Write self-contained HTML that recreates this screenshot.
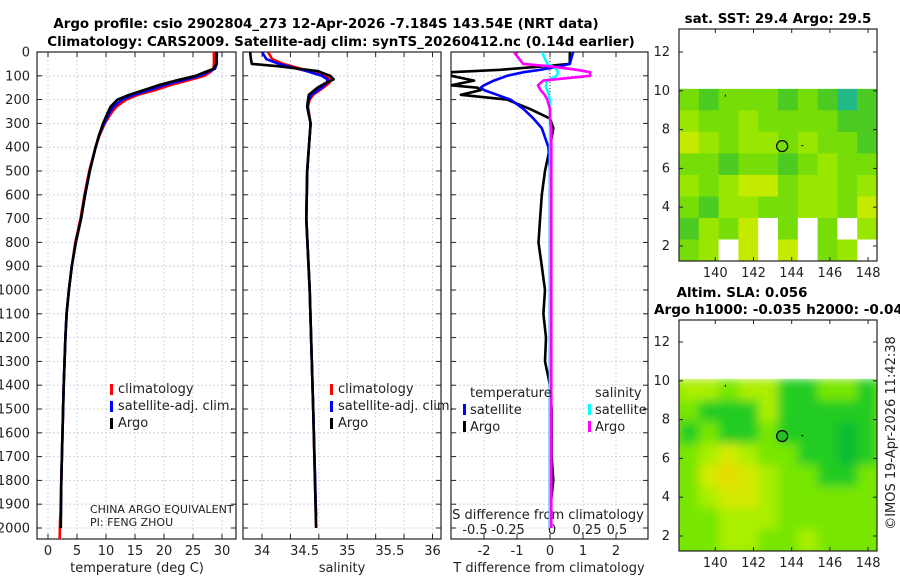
<!DOCTYPE html>
<html><head><meta charset="utf-8"><style>
html,body{margin:0;padding:0;background:#fff;}
svg{display:block;font-family:"DejaVu Sans","Liberation Sans",sans-serif;}
</style></head><body>
<svg id="fig" width="900" height="580" viewBox="0 0 900 580">
<defs>
<clipPath id="c1"><rect x="37" y="52" width="199" height="487"/></clipPath>
<clipPath id="c2"><rect x="243" y="52" width="198" height="487"/></clipPath>
<clipPath id="c3"><rect x="451" y="52" width="197" height="487"/></clipPath>
<clipPath id="cm1"><rect x="679" y="29" width="198" height="232"/></clipPath>
<clipPath id="cm2"><rect x="679" y="320" width="198" height="231"/></clipPath>
<filter id="blur" x="-5%" y="-5%" width="110%" height="110%"><feGaussianBlur stdDeviation="5"/></filter>
</defs>
<g id="root"></g>
</svg>
<script>
// ---- profile data ----
const depthT = [0,50,70,85,100,120,140,160,180,200,230,260,300,350,400,500,600,700,800,900,1000,1100,1200,1400,1600,1800,2000];
const tArgo  = [29.0,29.0,28.6,27.0,25.5,22.0,19.0,16.5,14.0,12.0,10.8,10.2,9.5,8.8,8.2,7.2,6.4,5.7,4.8,4.1,3.6,3.2,3.0,2.7,2.5,2.3,2.2];
const tClim  = [28.6,28.6,28.5,28.0,27.0,24.0,21.0,18.5,15.5,13.5,11.8,10.8,9.8,8.9,8.2,7.1,6.3,5.6,4.7,4.1,3.6,3.2,3.0,2.7,2.5,2.3,2.1];
const tSat   = [29.1,29.1,28.8,27.5,26.2,23.0,20.0,17.5,14.8,12.8,11.3,10.5,9.7,8.8,8.2,7.2,6.4,5.7,4.8,4.1,3.6,3.2,3.0,2.7,2.5,2.3,2.2];
const tClimDeep = [2.1,2.0];
const depthClimDeep = [1950,2050];

const depthS = [0,30,50,60,80,100,115,130,150,180,200,230,300,400,500,700,1000,1500,2000];
const sArgo  = [33.86,33.87,33.88,34.2,34.65,34.80,34.84,34.75,34.65,34.55,34.54,34.53,34.57,34.55,34.53,34.52,34.56,34.60,34.635];
const sClim  = [34.07,34.12,34.25,34.35,34.55,34.74,34.80,34.79,34.72,34.60,34.56,34.54,34.57,34.55,34.53,34.52,34.56,34.60,34.635];
const sSat   = [34.0,34.05,34.2,34.3,34.52,34.70,34.77,34.76,34.70,34.58,34.55,34.53,34.57,34.55,34.53,34.52,34.56,34.60,34.635];

const depthD = [0,50,60,75,85,100,120,140,150,160,180,200,240,280,320,400,500,600,700,800,900,1000,1100,1200,1300,1400,1500,1700,1800,1900,2000];
const dTArgo = [0.6,0.6,-0.2,-1.5,-3.0,-3.0,-2.3,-3.0,-2.2,-2.1,-2.7,-1.3,-0.6,0,0.1,0,-0.15,-0.25,-0.3,-0.35,-0.25,-0.15,-0.2,-0.12,-0.15,0,0.05,0.05,0.1,0.02,0];
const dTSat  = [0.7,0.6,0.3,-0.3,-0.8,-1.3,-1.7,-2.0,-2.1,-2.0,-1.6,-1.2,-0.8,-0.5,-0.25,-0.05,0,0,0,0,0,0,0,0,0,0,0,0,0,0,0];
const dSArgo = [-0.27,-0.2,0,0.2,0.3,0.3,-0.05,-0.09,-0.08,-0.07,-0.04,-0.02,0,0,0.01,0.01,0.01,0.01,0.01,0.01,0.01,0.01,0.01,0.01,0.01,0.01,0.01,0.01,0.01,0.01,0.01];
const dSSat  = [-0.06,-0.02,0.02,0.05,0.06,0.05,-0.02,-0.03,-0.03,-0.02,-0.01,0,0,0,0,0,0,0,0,0,0,0,0,0,0,0,0,0,0,0,0];

const depthTicks = [0,100,200,300,400,500,600,700,800,900,1000,1100,1200,1300,1400,1500,1600,1700,1800,1900,2000];
const tTicks = [0,5,10,15,20,25,30];
const sTicks = [34,34.5,35,35.5,36];
const dTTicks = [-2,-1,0,1,2];
const dSTickLabels = ["-0.5","-0.25","0","0.25","0.5"];

// ---- map data (coarse grids) ----
const sstGrid = [
 [1,0,1,1,1,0,1,0,4,0],
 [2,1,1,2,1,1,1,1,0,0],
 [3,2,1,2,2,1,2,1,1,0],
 [1,1,0,1,1,0,1,2,1,1],
 [2,1,2,3,3,1,2,2,1,2],
 [1,0,2,2,1,1,2,2,1,3],
 [0,2,1,3,-9,1,-9,1,-9,2],
 [1,2,-9,3,-9,3,-9,1,2,-9]
];
const slaGrid = [
 [2,2,1,2,2,0,0,1,1,0],
 [1,0,0,0,2,0,0,0,0,0],
 [0,1,0,0,1,0,0,0,-1,0],
 [1,2,3,2,1,1,0,0,-1,0],
 [1,3,4,3,2,1,1,0,0,1],
 [1,2,3,3,2,1,1,1,1,1],
 [1,1,2,2,2,1,1,1,1,1],
 [1,1,2,2,1,1,2,1,1,1]
];
const lonTicks = [140,142,144,146,148];
const latTicks = [2,4,6,8,10,12];
const argoLon = 143.5, argoLat = 7.15;

const NS='http://www.w3.org/2000/svg';
const root=document.getElementById('root');
function el(tag,attrs,parent,text){const e=document.createElementNS(NS,tag);for(const k in attrs)e.setAttribute(k,attrs[k]);if(text!==undefined)e.textContent=text;(parent||root).appendChild(e);return e;}

const yD = d => 52 + d*0.238;
const xT = t => 48 + t*5.8;
const xS = s => 262 + (s-34)*85.25;
const xDT = v => 550 + v*33;
const xDS = v => 550 + v*134;

function gridAndFrame(x0,x1,xs,name){
  const g=el('g',{});
  
  
  depthTicks.forEach(d=>{el('line',{x1:x0,x2:x1,y1:yD(d),y2:yD(d),stroke:'#c8cce0','stroke-width':0.8,'stroke-dasharray':'2,2'},g);});
  xs.forEach(x=>{el('line',{x1:x,x2:x,y1:52,y2:539,stroke:'#c8cce0','stroke-width':0.8,'stroke-dasharray':'2,2'},g);});
  const f=el('rect',{x:x0,y:52,width:x1-x0,height:487,fill:'none',stroke:'#222','stroke-width':1.2});
  
  
  depthTicks.forEach(d=>{el('line',{x1:x0,x2:x0+5,y1:yD(d),y2:yD(d),stroke:'#222'});el('line',{x1:x1,x2:x1-5,y1:yD(d),y2:yD(d),stroke:'#222'});});
  xs.forEach(x=>{el('line',{x1:x,x2:x,y1:539,y2:534,stroke:'#222'});el('line',{x1:x,x2:x,y1:52,y2:57,stroke:'#222'});});
}
function line(xs,ys,fx,color,clip,name){
  const pts=xs.map((v,i)=>fx(v).toFixed(1)+','+yD(ys[i]).toFixed(1)).join(' ');
  const p=el('polyline',{points:pts,fill:'none',stroke:color,'stroke-width':2.6,'stroke-linejoin':'round','clip-path':'url(#'+clip+')'});
  
  
}
function txt(x,y,s,opts,name){
  const t=el('text',Object.assign({x:x,y:y,'font-size':12,fill:'#222'},opts||{}),root,s);
  
  
  return t;
}

// titles
txt(326,28,'Argo profile: csio 2902804_273 12-Apr-2026 -7.184S 143.54E (NRT data)',{'font-size':13.4,'font-weight':'bold','text-anchor':'middle',fill:'#000'},'title-line-1');
txt(341,46,'Climatology: CARS2009. Satellite-adj clim: synTS_20260412.nc (0.14d earlier)',{'font-size':13.4,'font-weight':'bold','text-anchor':'middle',fill:'#000'},'title-line-2');

// panel 1
gridAndFrame(37,236,tTicks.map(xT),'temperature-panel');
depthTicks.forEach(d=>txt(30,yD(d)+4.5,String(d),{'text-anchor':'end','font-size':13},'depth-tick-label'));
tTicks.forEach(t=>txt(xT(t),555,String(t),{'text-anchor':'middle','font-size':13},'temp-tick-label'));
txt(137,572,'temperature (deg C)',{'text-anchor':'middle','font-size':13},'temperature-x-axis-title');
line(tClim,depthT,xT,'#f00','c1','temp-climatology-line');
line(tClimDeep,depthClimDeep,xT,'#f00','c1','temp-climatology-deep-line');
line(tSat,depthT.map(d=>Math.min(d,1950)),xT,'#00f','c1','temp-satellite-line');
line(tArgo,depthT,xT,'#000','c1','temp-argo-line');
[['#f00','climatology',393],['#00f','satellite-adj. clim.',410],['#000','Argo',427]].forEach(([c,s,y])=>{
  const m=el('rect',{x:110,y:y-9,width:3,height:11,fill:c});
  txt(118,y,s,{'font-size':13},'legend-entry');
});
txt(90,513,'CHINA ARGO EQUIVALENT',{'font-size':11},'pi-institution-label');
txt(90,526,'PI: FENG ZHOU',{'font-size':11},'pi-name-label');

// panel 2
const sGrid=[34,34+1/3,34+2/3,35,35+1/3,35+2/3,36].map(xS);
gridAndFrame(243,441,sGrid,'salinity-panel');
sTicks.forEach(s=>txt(xS(s),555,String(s),{'text-anchor':'middle','font-size':13},'sal-tick-label'));
txt(342,572,'salinity',{'text-anchor':'middle','font-size':13},'salinity-x-axis-title');
line(sClim,depthS,xS,'#f00','c2','sal-climatology-line');
line(sSat,depthS.map(d=>Math.min(d,1950)),xS,'#00f','c2','sal-satellite-line');
line(sArgo,depthS,xS,'#000','c2','sal-argo-line');
[['#f00','climatology',393],['#00f','satellite-adj. clim.',410],['#000','Argo',427]].forEach(([c,s,y])=>{
  const m=el('rect',{x:330,y:y-9,width:3,height:11,fill:c});
  txt(338,y,s,{'font-size':13},'legend-entry');
});

// panel 3
gridAndFrame(451,648,dTTicks.map(xDT),'difference-panel');
dTTicks.forEach(v=>txt(xDT(v),555,String(v),{'text-anchor':'middle','font-size':13},'dt-tick-label'));
txt(549,572,'T difference from climatology',{'text-anchor':'middle','font-size':13},'t-difference-x-axis-title');
txt(548,519,'S difference from climatology',{'text-anchor':'middle','font-size':13},'s-difference-axis-title');
[475,508,552,587,617].forEach((x,i)=>txt(x,534,dSTickLabels[i],{'text-anchor':'middle','font-size':13},'ds-tick-label'));
el('line',{x1:550,x2:550,y1:52,y2:140,stroke:'#333','stroke-dasharray':'1,2'});
line(dTArgo,depthD,xDT,'#000','c3','dt-argo-line');
line(dTSat,depthD,xDT,'#00f','c3','dt-satellite-line');
line(dSSat,depthD,xDS,'#0ff','c3','ds-satellite-line');
line(dSArgo,depthD,xDS,'#f0f','c3','ds-argo-line');
txt(470,397,'temperature',{'font-size':13},'legend-temperature-header');
txt(595,397,'salinity',{'font-size':13},'legend-salinity-header');
[['#00f','satellite',463,414],['#000','Argo',463,431],['#0ff','satellite',588,414],['#f0f','Argo',588,431]].forEach(([c,s,x,y])=>{
  const m=el('rect',{x:x,y:y-10,width:3,height:11,fill:c});
  txt(x+7,y,s,{'font-size':13},'legend-entry');
});

// maps
const mLon = lon => 679 + (lon-138.1)*19.1;
const sstCol = {'-1':'#11bb44','0':'#4ccc22','1':'#77dd08','2':'#99e600','3':'#c4ea00','4':'#22bb88'};
const slaCol = {'-1':'#11bb33','0':'#22cc22','1':'#77e600','2':'#aaee00','3':'#d4ea00','4':'#e8dc00'};
function drawMap(top,lat12,grid,cols,clip,name,blur){
  const latY = la => lat12 + (12-la)*19.4;
  const dataTop = latY(10.1), dataBot = top===29?261:551;
  const ncol=grid[0].length,nrow=grid.length;
  const cw=198/ncol, ch=(dataBot-dataTop)/nrow;
  const g=el('g',{'clip-path':'url(#'+clip+')'});
  
  
  const inner=el('g',blur?{filter:'url(#blur)'}:{},g);
  if(blur) el('rect',{x:660,y:dataTop,width:240,height:dataBot-dataTop+20,fill:cols['1']},inner);
  grid.forEach((row,r)=>row.forEach((v,c)=>{
    const rc=el('rect',{x:679+c*cw,y:dataTop+r*ch,width:cw+0.5,height:ch+0.5,fill:v<-5?'#fff':cols[String(v)]},inner);
    
  }));
  if(blur){el('rect',{x:660,y:top,width:240,height:dataTop-top,fill:'#fff'},g);}
  const f=el('rect',{x:679,y:top,width:198,height:dataBot-top,fill:'none',stroke:'#222','stroke-width':1.2});
  
  
  latTicks.forEach(la=>{const y=latY(la);el('line',{x1:679,x2:683,y1:y,y2:y,stroke:'#222'});el('line',{x1:877,x2:873,y1:y,y2:y,stroke:'#222'});
    txt(670,y+4,String(la),{'text-anchor':'end','font-size':13},'lat-tick-label');});
  lonTicks.forEach(lo=>{const x=mLon(lo);el('line',{x1:x,x2:x,y1:top,y2:top+4,stroke:'#222'});el('line',{x1:x,x2:x,y1:dataBot,y2:dataBot-4,stroke:'#222'});
    txt(x,dataBot+16,String(lo),{'text-anchor':'middle','font-size':13},'lon-tick-label');});
  const cc=el('circle',{cx:mLon(argoLon),cy:latY(argoLat),r:5.5,fill:blur?'#22c022':'none',stroke:'#000','stroke-width':1.2});
  
  
  el('rect',{x:mLon(140.5),y:latY(9.8),width:1,height:2,fill:'#000'});
  el('rect',{x:mLon(144.5),y:latY(7.2),width:2,height:1,fill:'#000'});
}
drawMap(29,52,sstGrid,sstCol,'cm1','sst-map',false);
drawMap(320,342,slaGrid,slaCol,'cm2','sla-map',true);
txt(778,23,'sat. SST: 29.4 Argo: 29.5',{'font-size':13.4,'font-weight':'bold','text-anchor':'middle',fill:'#000'},'sst-map-title');
txt(742,297,'Altim. SLA: 0.056',{'font-size':13.4,'font-weight':'bold','text-anchor':'middle',fill:'#000'},'sla-map-title');
txt(654,314,'Argo h1000: -0.035 h2000: -0.044',{'font-size':13.6,'font-weight':'bold',fill:'#000'},'sla-map-subtitle');
txt(0,0,'©IMOS 19-Apr-2026 11:42:38',{'font-size':13,'text-anchor':'middle',transform:'translate(895,433) rotate(-90)'},'imos-timestamp');
</script>
</body></html>
